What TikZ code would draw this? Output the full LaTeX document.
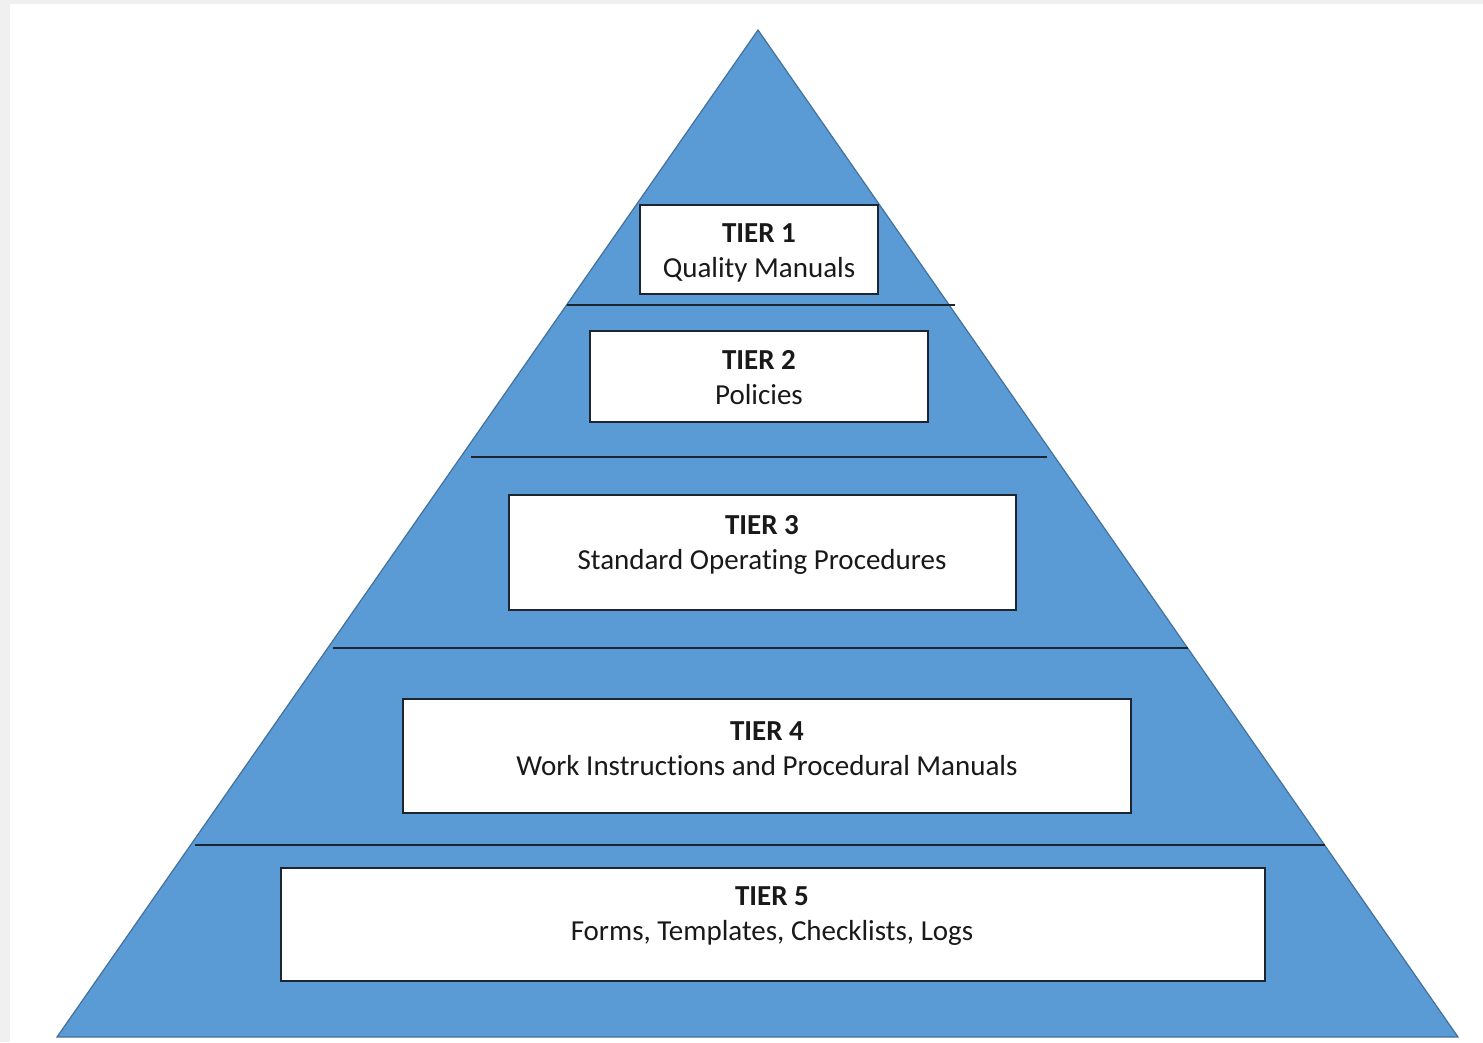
\documentclass[tikz,border=0pt]{standalone}
\usepackage{fontspec}
\setmainfont{Carlito}[Ligatures=NoCommon]
\definecolor{pyrfill}{HTML}{5B9BD5}
\definecolor{pyredge}{HTML}{41719C}
\definecolor{pagegray}{HTML}{F0F0F0}
\definecolor{linedark}{HTML}{1C2530}
\begin{document}
\begin{tikzpicture}[x=1pt,y=-1pt,
  tierbox/.style={draw=linedark, line width=2pt, fill=white, inner sep=0pt},
  tiertext/.style={align=center, font=\fontsize{29}{35}\selectfont, text=black!90, inner sep=0pt},
  divider/.style={draw=linedark, line width=2.4pt}]
\useasboundingbox (0,0) rectangle (1483,1042);
\fill[pagegray] (0,0) rectangle (1483,1042);
\fill[white] (10,4) rectangle (1483,1042);
% pyramid
\coordinate (apex) at (758,30);
\coordinate (bl) at (57,1037);
\coordinate (br) at (1458,1037);
\draw[fill=pyrfill, draw=pyredge, line width=1.2pt, line join=miter] (apex) -- (br) -- (bl) -- cycle;
% dividers
\coordinate (d1l) at (567,305); \coordinate (d1r) at (955,305);
\coordinate (d2l) at (471,457); \coordinate (d2r) at (1047,457);
\coordinate (d3l) at (333,648); \coordinate (d3r) at (1188,648);
\coordinate (d4l) at (195,845); \coordinate (d4r) at (1325,845);
\draw[divider] (d1l) -- (d1r);
\draw[divider] (d2l) -- (d2r);
\draw[divider] (d3l) -- (d3r);
\draw[divider] (d4l) -- (d4r);
% boxes
\node[tierbox, minimum width=238pt, minimum height=89pt] (b1) at (759,249.5) {};
\node[tierbox, minimum width=338pt, minimum height=91pt] (b2) at (759,376.5) {};
\node[tierbox, minimum width=507pt, minimum height=115pt] (b3) at (762.5,552.5) {};
\node[tierbox, minimum width=728pt, minimum height=114pt] (b4) at (767,756) {};
\node[tierbox, minimum width=984pt, minimum height=113pt] (b5) at (773,924.5) {};
% texts
\node[tiertext] (t1) at (759,253) {\textbf{TIER 1}\\Quality Manuals};
\node[tiertext] (t2) at (759,378) {\textbf{TIER 2}\\Policies};
\node[tiertext] (t3) at (762,545) {\textbf{TIER 3}\\Standard Operating Procedures};
\node[tiertext] (t4) at (767,749) {\textbf{TIER 4}\\Work Instructions and Procedural Manuals};
\node[tiertext] (t5) at (772,916) {\textbf{TIER 5}\\Forms, Templates, Checklists, Logs};
\end{tikzpicture}
\end{document}
